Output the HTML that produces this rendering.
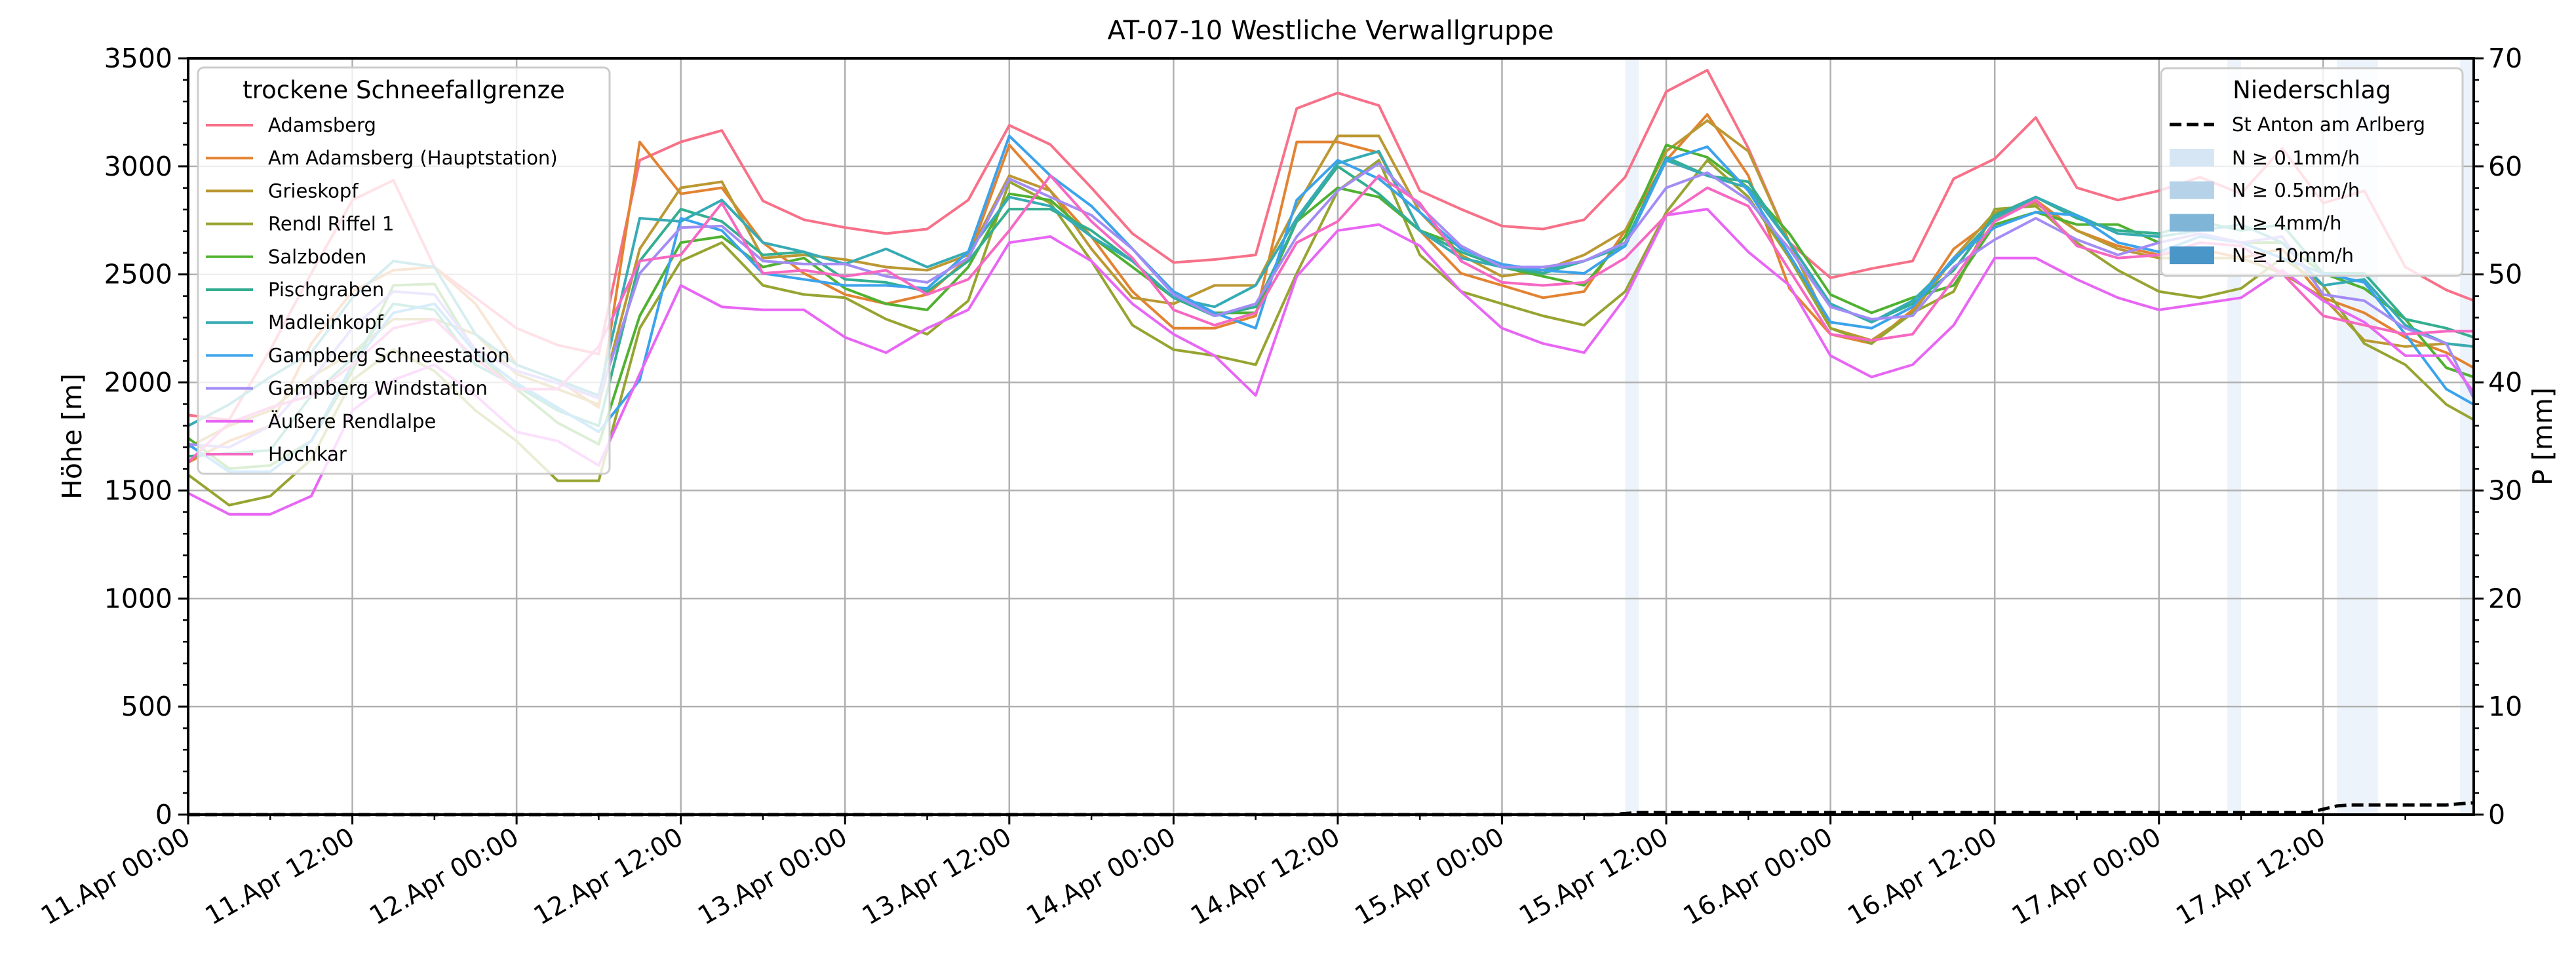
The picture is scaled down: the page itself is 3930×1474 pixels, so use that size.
<!DOCTYPE html>
<html><head><meta charset="utf-8"><style>
html,body{margin:0;padding:0;background:#fff;}
svg{display:block;font-family:"DejaVu Sans","Liberation Sans",sans-serif;}
</style></head><body>
<svg id="chart" width="3930" height="1474" viewBox="0 0 3930 1474" xmlns="http://www.w3.org/2000/svg">
<rect width="3930" height="1474" fill="#fff"/>
<g id="bands"></g><g id="grid"></g><g id="lines"></g><g id="precip"></g><g id="axes"></g><g id="legends"></g>
</svg>
<script>
const hours=[0,3,6,9,12,15,18,21,24,27,30,33,36,39,42,45,48,51,54,57,60,63,66,69,72,75,78,81,84,87,90,93,96,99,102,105,108,111,114,117,120,123,126,129,132,135,138,141,144,147,150,153,156,159,162,165,167];
const names=["Adamsberg","Am Adamsberg (Hauptstation)","Grieskopf","Rendl Riffel 1","Salzboden","Pischgraben","Madleinkopf","Gampberg Schneestation","Gampberg Windstation","Äußere Rendlalpe","Hochkar"];
const colors=["#f77189","#e28332","#bb9832","#97a431","#50b131","#34ae91","#37abb4","#3ba3ec","#a38cf4","#e866f4","#f668c2"];
const adamsberg=[1849,1827,2152,2505,2844,2936,2534,2392,2251,2173,2131,3028,3113,3166,2840,2753,2717,2689,2710,2844,3190,3101,2901,2689,2555,2569,2590,3268,3340,3282,2887,2802,2724,2710,2753,2950,3346,3445,3084,2647,2484,2527,2562,2943,3035,3226,2901,2844,2887,2950,2873,3084,2830,2887,2534,2428,2379];
const amAdamsberg=[1630,1729,1799,2180,2421,2519,2534,2364,2082,2011,1884,3113,2873,2901,2647,2505,2407,2364,2407,2576,3099,2887,2675,2421,2251,2251,2308,3113,3113,3063,2703,2505,2449,2392,2421,2703,3028,3240,2957,2435,2223,2180,2336,2618,2760,2844,2703,2632,2590,2618,2576,2618,2392,2322,2209,2138,2068];
const grieskopf=[1700,1799,1870,2025,2138,2293,2293,2223,2039,1969,1898,2618,2901,2929,2576,2590,2569,2534,2519,2590,2957,2887,2618,2392,2364,2449,2449,2816,3141,3141,2788,2590,2491,2519,2590,2703,3070,3212,3070,2647,2251,2195,2322,2576,2788,2830,2703,2618,2576,2576,2576,2505,2392,2195,2166,2180,2166];
const rendlRiffel=[1573,1432,1474,1644,2011,2152,2053,1870,1729,1545,1545,2251,2562,2647,2449,2407,2392,2293,2223,2378,2929,2830,2562,2265,2152,2124,2082,2505,2887,3028,2590,2421,2364,2308,2265,2421,2788,3028,2858,2576,2251,2180,2322,2421,2802,2816,2647,2519,2421,2392,2435,2576,2449,2180,2082,1898,1827];
const salzboden=[1743,1601,1616,1729,2053,2449,2456,2138,1969,1813,1714,2308,2647,2675,2534,2576,2435,2364,2336,2534,2873,2844,2675,2534,2392,2322,2322,2745,2901,2858,2703,2632,2534,2491,2449,2675,3099,3042,2901,2689,2407,2322,2392,2449,2731,2788,2731,2731,2647,2689,2647,2647,2505,2435,2293,2068,2025];
const pischgraben=[1658,1672,1686,1940,2110,2364,2336,2082,1983,1870,1799,2562,2802,2745,2590,2604,2477,2463,2421,2562,2802,2802,2703,2562,2392,2308,2350,2745,3000,2873,2703,2604,2534,2505,2562,2647,3042,2957,2929,2647,2364,2279,2364,2519,2774,2858,2760,2703,2689,2745,2703,2731,2505,2505,2293,2251,2209];
const madleinkopf=[1799,1898,2025,2138,2392,2562,2534,2223,2082,2011,1940,2760,2745,2844,2647,2604,2548,2618,2534,2604,2858,2816,2675,2562,2392,2350,2449,2760,3014,3070,2703,2576,2534,2519,2562,2632,3028,2957,2901,2647,2364,2279,2378,2562,2760,2858,2774,2689,2675,2703,2731,2647,2449,2477,2265,2180,2166];
const gampbergSchnee=[1714,1587,1587,1729,2082,2322,2364,2138,1997,1884,1771,2011,2760,2703,2505,2477,2449,2449,2435,2604,3141,2957,2816,2618,2421,2322,2251,2844,3028,2943,2788,2618,2547,2519,2505,2632,3028,3091,2887,2590,2279,2251,2350,2576,2717,2788,2774,2647,2604,2675,2647,2576,2505,2463,2223,1969,1898];
const gampbergWind=[1714,1700,1799,2011,2251,2421,2407,2152,2053,1997,1926,2505,2717,2724,2562,2548,2548,2491,2463,2576,2943,2858,2774,2618,2407,2308,2364,2675,2887,3014,2816,2632,2534,2534,2562,2647,2901,2971,2844,2618,2350,2293,2308,2534,2661,2760,2661,2590,2647,2689,2647,2675,2407,2378,2251,2180,1926];
const aeussereRendlalpe=[1488,1390,1390,1474,1870,2011,2082,1940,1771,1729,1616,2039,2449,2350,2336,2336,2209,2138,2251,2336,2647,2675,2562,2364,2223,2124,1940,2491,2703,2731,2632,2421,2251,2180,2138,2392,2774,2802,2604,2449,2124,2025,2082,2265,2576,2576,2477,2392,2336,2364,2392,2519,2378,2279,2124,2124,1954];
const hochkar=[1630,1813,1884,1940,2082,2251,2293,2110,1969,1969,2166,2562,2590,2830,2505,2519,2491,2519,2407,2477,2703,2957,2745,2576,2336,2265,2322,2647,2745,2957,2830,2562,2463,2449,2463,2576,2774,2901,2816,2519,2223,2195,2223,2477,2745,2844,2632,2576,2590,2647,2632,2505,2308,2265,2223,2237,2237];
const precipHours=[0,104,106,155,157,158,165,167];
const precipValues=[0,0,0.2,0.2,0.8,0.9,0.9,1.1];
const bandStart=[105,149,157,166];
const bandEnd=[106,150,160,167];
const yTicks=[0,500,1000,1500,2000,2500,3000,3500];
const y2Ticks=[0,10,20,30,40,50,60,70];
const xTickLabels=["11.Apr 00:00","11.Apr 12:00","12.Apr 00:00","12.Apr 12:00","13.Apr 00:00","13.Apr 12:00","14.Apr 00:00","14.Apr 12:00","15.Apr 00:00","15.Apr 12:00","16.Apr 00:00","16.Apr 12:00","17.Apr 00:00","17.Apr 12:00"];
const seriesValues=[adamsberg,amAdamsberg,grieskopf,rendlRiffel,salzboden,pischgraben,madleinkopf,gampbergSchnee,gampbergWind,aeussereRendlalpe,hochkar];

const NS="http://www.w3.org/2000/svg";
const L=287,R=3774,T=89,B=1243;
const x=h=>L+h*(R-L)/167;
const y=v=>B-v*(B-T)/3500;
const y2=p=>B-p*(B-T)/70;
function mk(tag,attrs,parent){const e=document.createElementNS(NS,tag);for(const k in attrs)e.setAttribute(k,attrs[k]);parent.appendChild(e);return e;}
const gB=document.getElementById('bands'),gG=document.getElementById('grid'),gL=document.getElementById('lines'),gP=document.getElementById('precip'),gA=document.getElementById('axes'),gLe=document.getElementById('legends');

bandStart.forEach((s,i)=>{const r=mk('rect',{x:x(s),y:T,width:x(bandEnd[i])-x(s),height:B-T,fill:'#edf3fa'},gB);

});

yTicks.forEach(v=>{const l=mk('line',{x1:L,x2:R,y1:y(v),y2:y(v),stroke:'#b0b0b0','stroke-width':2.5},gG);

});
xTickLabels.forEach((t,i)=>{const l=mk('line',{x1:x(i*12),x2:x(i*12),y1:T,y2:B,stroke:'#b0b0b0','stroke-width':2.5},gG);

});

seriesValues.forEach((vals,si)=>{const pts=vals.map((v,i)=>x(hours[i]).toFixed(1)+','+y(v).toFixed(1)).join(' ');
const p=mk('polyline',{points:pts,fill:'none',stroke:colors[si],'stroke-width':4,'stroke-linejoin':'round'},gL);

});

const pp=mk('polyline',{points:precipValues.map((v,i)=>x(precipHours[i]).toFixed(1)+','+y2(v).toFixed(1)).join(' '),fill:'none',stroke:'#000','stroke-width':5,'stroke-dasharray':'18,8'},gP);



// axes frame
const fr=mk('rect',{x:L,y:T,width:R-L,height:B-T,fill:'none',stroke:'#000','stroke-width':4},gA);


for(let v=0;v<=3500;v+=100){const maj=v%500===0;mk('line',{x1:L-(maj?15:8),x2:L,y1:y(v),y2:y(v),stroke:'#000','stroke-width':maj?3:2.5},gA);}
for(let p=0;p<=70;p+=2){const maj=p%10===0;mk('line',{x1:R,x2:R+(maj?15:8),y1:y2(p),y2:y2(p),stroke:'#000','stroke-width':maj?3:2.5},gA);}
for(let h=0;h<=167;h+=6){const maj=h%12===0;mk('line',{x1:x(h),x2:x(h),y1:B,y2:B+(maj?15:8),stroke:'#000','stroke-width':maj?3:2.5},gA);}
yTicks.forEach(v=>{const t=mk('text',{x:L-24,y:y(v)+14,'text-anchor':'end','font-size':41},gA);t.textContent=v;

});
y2Ticks.forEach(v=>{const t=mk('text',{x:R+22,y:y2(v)+14,'font-size':41},gA);t.textContent=v;

});
xTickLabels.forEach((s,i)=>{const t=mk('text',{x:0,y:0,'text-anchor':'end','font-size':39,transform:`translate(${x(i*12)+6},${B+42}) rotate(-30)`},gA);t.textContent=s;

});
let t=mk('text',{x:2030,y:60,'text-anchor':'middle','font-size':40},gA);t.textContent='AT-07-10 Westliche Verwallgruppe';


t=mk('text',{'text-anchor':'middle','font-size':41,transform:'translate(124,666) rotate(-90)'},gA);t.textContent='Höhe [m]';


t=mk('text',{'text-anchor':'middle','font-size':41,transform:'translate(3893,666) rotate(-90)'},gA);t.textContent='P [mm]';



// left legend
let lg=mk('g',{},gLe);


mk('rect',{x:302,y:103,width:628,height:620,rx:9,fill:'rgba(255,255,255,0.8)',stroke:'#cccccc','stroke-width':3},lg);
t=mk('text',{x:616,y:150,'text-anchor':'middle','font-size':37},lg);t.textContent='trockene Schneefallgrenze';
names.forEach((n,i)=>{const yy=191+i*50.2;const e=mk('g',{},lg);


mk('line',{x1:314,x2:386,y1:yy,y2:yy,stroke:colors[i],'stroke-width':4},e);
const tt=mk('text',{x:409,y:yy+10,'font-size':29},e);tt.textContent=n;});

// right legend
let rg=mk('g',{},gLe);


mk('rect',{x:3297,y:104,width:460,height:317,rx:9,fill:'rgba(255,255,255,0.8)',stroke:'#cccccc','stroke-width':3},rg);
t=mk('text',{x:3527,y:150,'text-anchor':'middle','font-size':37},rg);t.textContent='Niederschlag';
const pe=mk('g',{},rg);


mk('line',{x1:3310,x2:3378,y1:190,y2:190,stroke:'#000','stroke-width':5,'stroke-dasharray':'18,8'},pe);
t=mk('text',{x:3405,y:200,'font-size':29},pe);t.textContent='St Anton am Arlberg';
const classLabels=['N ≥ 0.1mm/h','N ≥ 0.5mm/h','N ≥ 4mm/h','N ≥ 10mm/h'];
const classColors=['#d6e6f4','#b5d2e9','#7fb6d8','#4a96c9'];
classLabels.forEach((s,i)=>{const yy=240+i*49.7;const e=mk('g',{},rg);


mk('rect',{x:3310,y:yy-13,width:68,height:27,fill:classColors[i]},e);
const tt=mk('text',{x:3405,y:yy+11,'font-size':29},e);tt.textContent=s;});
</script>
</body></html>
